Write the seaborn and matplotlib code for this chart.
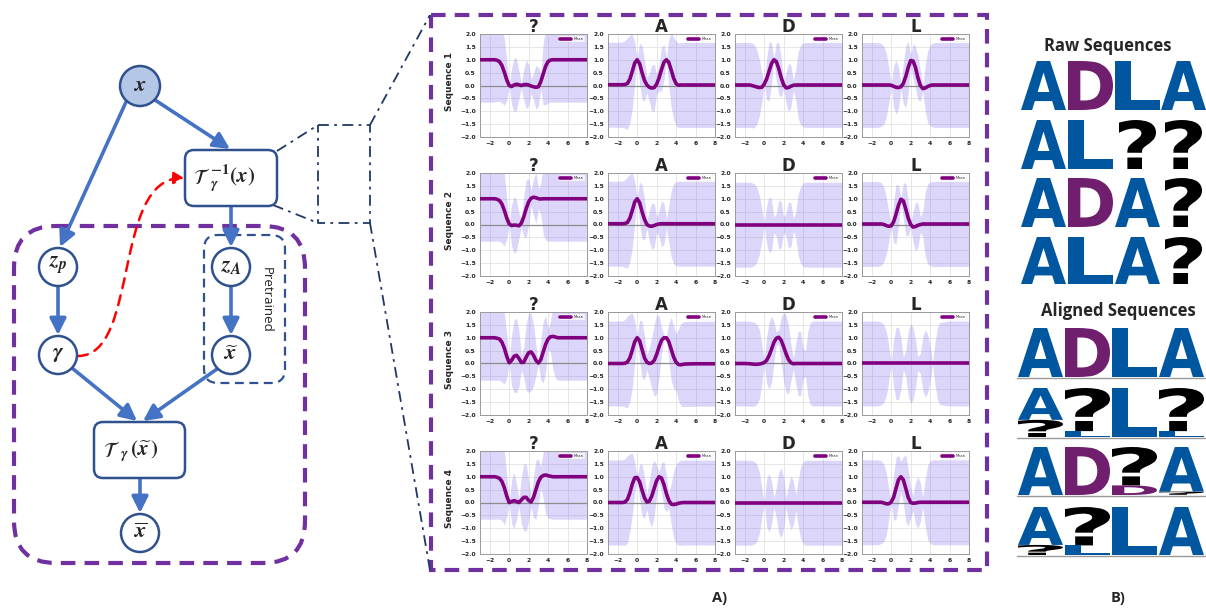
import numpy as np
import pandas as pd
import matplotlib
matplotlib.use("Agg")
import matplotlib.pyplot as plt
import seaborn as sns
from matplotlib.patches import Circle, FancyBboxPatch, FancyArrowPatch, Rectangle, PathPatch
from matplotlib.path import Path
from matplotlib.textpath import TextPath
from matplotlib.font_manager import FontProperties
from matplotlib.mathtext import MathTextParser
import matplotlib.transforms as mtransforms

# ---------------- data ----------------
x_grid = [-3, -2, -1.5, -1.25, -1, -0.75, -0.5, -0.25, 0, 0.25, 0.5, 0.75, 1, 1.25, 1.5,
          1.75, 2, 2.25, 2.5, 2.75, 3, 3.25, 3.5, 3.75, 4, 4.25, 4.5, 4.75, 5, 6, 8]
letters = ["?", "A", "D", "L"]
sequence_labels = ["Sequence 1", "Sequence 2", "Sequence 3", "Sequence 4"]

mean_s1_q = [1, 1, 1, 0.98, 0.93, 0.78, 0.52, 0.22, 0.0, -0.04, 0.02, 0.05, 0.03, 0.0, 0.03, 0.04, 0.02, -0.02, -0.05, -0.07, -0.05, 0.15, 0.45, 0.75, 0.93, 0.99, 1, 1, 1, 1, 1]
std_s1_q = [1.65, 1.65, 1.64, 1.6, 1.55, 1.45, 1.3, 0.8, 0.05, 0.7, 1.05, 1.0, 0.55, 0.1, 0.6, 0.95, 0.8, 0.3, 0.5, 0.85, 0.75, 0.3, 1.2, 1.5, 1.6, 1.63, 1.65, 1.65, 1.65, 1.65, 1.65]
mean_s1_a = [0.03, 0.03, 0.03, 0.04, 0.08, 0.25, 0.55, 0.88, 1.0, 0.85, 0.5, 0.2, 0.02, -0.07, -0.1, -0.08, 0.05, 0.3, 0.62, 0.9, 1.0, 0.9, 0.6, 0.28, 0.07, 0.01, 0.02, 0.02, 0.02, 0.02, 0.02]
std_s1_a = [1.65, 1.65, 1.66, 1.7, 1.78, 1.7, 1.45, 0.8, 0.05, 0.8, 1.05, 0.8, 0.3, 0.55, 0.9, 0.9, 0.4, 0.5, 0.85, 0.7, 0.1, 0.9, 1.45, 1.6, 1.65, 1.65, 1.65, 1.65, 1.65, 1.65, 1.65]
mean_s1_d = [0.02, 0.02, 0.02, 0.0, -0.03, -0.06, -0.08, -0.07, 0.05, 0.25, 0.55, 0.85, 1.0, 0.93, 0.65, 0.3, 0.03, -0.09, -0.08, -0.03, 0.01, 0.02, 0.02, 0.02, 0.02, 0.02, 0.02, 0.02, 0.02, 0.02, 0.02]
std_s1_d = [1.65, 1.65, 1.65, 1.65, 1.6, 1.45, 1.1, 0.6, 0.05, 0.8, 1.15, 0.8, 0.05, 0.75, 1.0, 0.75, 0.15, 0.6, 0.95, 0.8, 0.2, 0.6, 1.3, 1.55, 1.63, 1.65, 1.65, 1.65, 1.65, 1.65, 1.65]
mean_s1_l = [0.02, 0.02, 0.02, 0.02, 0.02, 0.02, 0.02, 0.02, 0.01, -0.03, -0.07, -0.08, -0.05, 0.08, 0.35, 0.7, 0.97, 0.95, 0.7, 0.3, 0.0, -0.12, -0.1, -0.04, 0.0, 0.02, 0.02, 0.02, 0.02, 0.02, 0.02]
std_s1_l = [1.65, 1.65, 1.65, 1.64, 1.6, 1.5, 1.25, 0.7, 0.05, 0.8, 1.05, 0.8, 0.1, 0.8, 1.2, 1.0, 0.2, 0.7, 0.8, 0.85, 0.6, 0.1, 0.9, 1.4, 1.58, 1.63, 1.65, 1.65, 1.65, 1.65, 1.65]

mean_s2_q = [1, 1, 1, 0.98, 0.93, 0.8, 0.55, 0.25, 0.02, -0.04, -0.02, -0.03, -0.05, 0.05, 0.3, 0.62, 0.88, 1.02, 1.06, 1.04, 1.0, 0.99, 1, 1, 1, 1, 1, 1, 1, 1, 1]
std_s2_q = [1.65, 1.65, 1.65, 1.62, 1.58, 1.52, 1.4, 0.8, 0.05, 0.8, 1.1, 1.0, 0.5, 0.15, 0.8, 1.1, 0.9, 0.3, 0.7, 1.0, 0.4, 0.6, 1.4, 1.6, 1.65, 1.65, 1.65, 1.65, 1.65, 1.65, 1.65]
mean_s2_a = [0.03, 0.03, 0.03, 0.04, 0.08, 0.25, 0.55, 0.88, 1.0, 0.85, 0.5, 0.2, 0.0, -0.06, -0.07, -0.04, 0.0, 0.02, 0.03, 0.03, 0.03, 0.03, 0.03, 0.03, 0.03, 0.03, 0.03, 0.03, 0.03, 0.03, 0.03]
std_s2_a = [1.65, 1.65, 1.66, 1.7, 1.78, 1.7, 1.45, 0.8, 0.05, 0.8, 1.05, 0.8, 0.15, 0.6, 0.9, 0.85, 0.3, 0.5, 0.9, 0.8, 0.2, 0.7, 1.3, 1.55, 1.63, 1.65, 1.65, 1.65, 1.65, 1.65, 1.65]
mean_s2_d = [-0.01, -0.01, -0.01, -0.01, -0.01, -0.01, -0.01, -0.01, -0.01, -0.01, -0.01, -0.01, -0.01, -0.01, -0.01, -0.01, -0.01, -0.01, -0.01, -0.01, -0.01, -0.01, -0.01, -0.01, -0.01, -0.01, -0.01, -0.01, -0.01, -0.01, -0.01]
std_s2_d = [1.65, 1.65, 1.65, 1.63, 1.58, 1.45, 1.15, 0.65, 0.05, 0.75, 1.08, 1.0, 0.3, 0.45, 0.95, 0.9, 0.3, 0.45, 0.9, 0.85, 0.25, 0.5, 1.2, 1.5, 1.62, 1.65, 1.65, 1.65, 1.65, 1.65, 1.65]
mean_s2_l = [0.02, 0.02, 0.02, 0.02, 0.02, 0.0, -0.04, -0.07, -0.05, 0.1, 0.4, 0.75, 0.98, 0.92, 0.6, 0.25, 0.0, -0.1, -0.08, -0.03, 0.0, 0.02, 0.02, 0.02, 0.02, 0.02, 0.02, 0.02, 0.02, 0.02, 0.02]
std_s2_l = [1.65, 1.65, 1.65, 1.64, 1.6, 1.45, 1.1, 0.6, 0.05, 0.8, 1.15, 0.8, 0.05, 0.7, 1.0, 0.7, 0.1, 0.6, 0.95, 0.85, 0.3, 0.5, 1.25, 1.55, 1.63, 1.65, 1.65, 1.65, 1.65, 1.65, 1.65]

mean_s3_q = [1, 1, 1, 0.98, 0.95, 0.83, 0.6, 0.28, 0.03, 0.12, 0.28, 0.32, 0.2, 0.04, 0.05, 0.25, 0.42, 0.45, 0.32, 0.12, 0.02, 0.15, 0.45, 0.75, 0.95, 1.04, 1.05, 1.03, 1.0, 1.0, 1.0]
std_s3_q = [1.65, 1.65, 1.65, 1.63, 1.6, 1.55, 1.4, 0.85, 0.05, 1.0, 1.4, 1.45, 1.1, 0.3, 0.6, 1.3, 1.55, 1.5, 1.2, 0.6, 0.05, 0.8, 1.2, 1.1, 0.4, 0.6, 1.3, 1.6, 1.65, 1.65, 1.65]
mean_s3_a = [0.0, 0.0, 0.0, 0.01, 0.06, 0.22, 0.52, 0.85, 1.0, 0.88, 0.55, 0.22, 0.05, 0.0, 0.02, 0.12, 0.35, 0.65, 0.9, 1.0, 1.0, 0.85, 0.55, 0.25, 0.05, -0.04, -0.05, -0.03, -0.02, -0.01, -0.01]
std_s3_a = [1.65, 1.65, 1.66, 1.7, 1.78, 1.7, 1.45, 0.8, 0.05, 0.8, 1.1, 0.85, 0.3, 0.6, 1.0, 1.4, 1.55, 1.2, 0.5, 0.1, 0.05, 0.7, 1.25, 1.2, 1.1, 1.4, 1.6, 1.65, 1.65, 1.65, 1.65]
mean_s3_d = [0.0, 0.0, -0.01, -0.02, -0.03, -0.03, -0.02, 0.0, 0.04, 0.12, 0.3, 0.55, 0.82, 0.98, 1.02, 0.9, 0.65, 0.38, 0.15, 0.03, -0.01, 0.0, 0.0, 0.0, 0.0, 0.0, 0.0, 0.0, 0.0, 0.0, 0.0]
std_s3_d = [1.65, 1.65, 1.65, 1.65, 1.62, 1.55, 1.35, 0.8, 0.05, 0.9, 1.3, 1.3, 0.8, 0.25, 0.3, 0.9, 1.35, 1.5, 1.35, 0.7, 0.2, 0.8, 1.25, 1.25, 0.6, 0.5, 1.3, 1.6, 1.65, 1.65, 1.65]
mean_s3_l = [0.0, 0.0, 0.0, 0.0, 0.0, 0.0, 0.0, 0.0, 0.0, 0.0, 0.0, 0.0, 0.0, 0.0, 0.0, 0.0, 0.0, 0.0, 0.0, 0.0, 0.0, 0.0, 0.0, 0.0, 0.0, 0.0, 0.0, 0.0, 0.0, 0.0, 0.0]
std_s3_l = [1.65, 1.65, 1.65, 1.64, 1.6, 1.5, 1.25, 0.7, 0.05, 0.9, 1.4, 1.4, 1.0, 0.25, 0.5, 1.25, 1.55, 1.4, 0.9, 0.25, 0.4, 1.05, 1.3, 1.15, 0.7, 0.05, 0.8, 1.4, 1.6, 1.65, 1.65]

mean_s4_q = [1, 1, 1, 0.98, 0.94, 0.82, 0.58, 0.25, 0.0, 0.04, 0.07, 0.04, 0.0, 0.1, 0.2, 0.2, 0.08, 0.02, 0.2, 0.5, 0.8, 0.98, 1.05, 1.07, 1.04, 1.02, 1.0, 1.0, 1.0, 1.0, 1.0]
std_s4_q = [1.65, 1.65, 1.65, 1.63, 1.58, 1.52, 1.45, 0.8, 0.05, 0.85, 1.1, 0.7, 0.15, 0.9, 1.3, 1.3, 0.8, 0.2, 0.8, 1.15, 0.9, 0.4, 0.9, 1.5, 1.65, 1.65, 1.65, 1.65, 1.65, 1.65, 1.65]
mean_s4_a = [0.0, 0.0, 0.0, 0.02, 0.12, 0.38, 0.72, 0.96, 0.97, 0.8, 0.48, 0.18, 0.02, 0.05, 0.25, 0.55, 0.85, 1.0, 0.95, 0.7, 0.35, 0.08, -0.06, -0.08, -0.06, -0.03, -0.01, 0.0, 0.0, 0.0, 0.0]
std_s4_a = [1.65, 1.65, 1.66, 1.68, 1.7, 1.5, 1.2, 0.6, 0.05, 0.7, 1.0, 0.8, 0.3, 0.8, 1.2, 1.1, 0.6, 0.2, 0.6, 0.9, 0.7, 0.3, 0.8, 1.3, 1.55, 1.63, 1.65, 1.65, 1.65, 1.65, 1.65]
mean_s4_d = [-0.01, -0.01, -0.01, -0.01, -0.01, -0.01, -0.01, -0.01, -0.01, -0.01, -0.01, -0.01, -0.01, -0.01, -0.01, -0.01, -0.01, -0.01, -0.01, -0.01, -0.01, -0.01, -0.01, -0.01, -0.01, -0.01, -0.01, -0.01, -0.01, -0.01, -0.01]
std_s4_d = [1.65, 1.65, 1.65, 1.64, 1.6, 1.5, 1.2, 0.6, 0.05, 0.9, 1.15, 0.85, 0.2, 0.6, 1.2, 1.35, 1.0, 0.2, 0.7, 1.05, 0.85, 0.3, 0.9, 1.4, 1.6, 1.65, 1.65, 1.65, 1.65, 1.65, 1.65]
mean_s4_l = [0.01, 0.01, 0.01, 0.01, 0.01, -0.02, -0.05, -0.05, 0.02, 0.2, 0.55, 0.88, 1.0, 0.88, 0.55, 0.2, 0.0, -0.03, -0.02, 0.0, 0.01, 0.01, 0.01, 0.01, 0.01, 0.01, 0.01, 0.01, 0.01, 0.01, 0.01]
std_s4_l = [1.65, 1.65, 1.65, 1.64, 1.6, 1.5, 1.2, 0.6, 0.05, 0.9, 1.2, 0.95, 0.6, 0.9, 1.3, 1.1, 0.6, 0.3, 0.8, 1.0, 0.75, 0.2, 0.9, 1.45, 1.6, 1.65, 1.65, 1.65, 1.65, 1.65, 1.65]

x_ticks = [-2, 0, 2, 4, 6, 8]
y_ticks = [-2.0, -1.5, -1.0, -0.5, 0.0, 0.5, 1.0, 1.5, 2.0]

raw_sequences = ["ADLA", "AL??", "ADA?", "ALA?"]
# aligned logo columns: (letter, share of column height), listed top to bottom
aligned_row1 = [[("A", 1.0)], [("D", 1.0)], [("L", 1.0)], [("A", 1.0)]]
aligned_row2 = [[("A", 0.65), ("?", 0.35)], [("?", 0.88), ("L", 0.12)], [("L", 1.0)], [("?", 0.88), ("L", 0.12)]]
aligned_row3 = [[("A", 1.0)], [("D", 1.0)], [("?", 0.8), ("D", 0.2)], [("A", 0.93), ("?", 0.07)]]
aligned_row4 = [[("A", 0.79), ("?", 0.21)], [("?", 0.8), ("L", 0.2)], [("L", 1.0)], [("A", 1.0)]]

panel_data = {
    (0, "?"): (mean_s1_q, std_s1_q), (0, "A"): (mean_s1_a, std_s1_a), (0, "D"): (mean_s1_d, std_s1_d), (0, "L"): (mean_s1_l, std_s1_l),
    (1, "?"): (mean_s2_q, std_s2_q), (1, "A"): (mean_s2_a, std_s2_a), (1, "D"): (mean_s2_d, std_s2_d), (1, "L"): (mean_s2_l, std_s2_l),
    (2, "?"): (mean_s3_q, std_s3_q), (2, "A"): (mean_s3_a, std_s3_a), (2, "D"): (mean_s3_d, std_s3_d), (2, "L"): (mean_s3_l, std_s3_l),
    (3, "?"): (mean_s4_q, std_s4_q), (3, "A"): (mean_s4_a, std_s4_a), (3, "D"): (mean_s4_d, std_s4_d), (3, "L"): (mean_s4_l, std_s4_l),
}
for k, (m, s) in panel_data.items():
    assert len(m) == len(x_grid) and len(s) == len(x_grid), k

# ---------------- style ----------------
sns.set_style("whitegrid")
plt.rcParams["font.family"] = ["DejaVu Sans"]
plt.rcParams["mathtext.fontset"] = "custom"
plt.rcParams["mathtext.it"] = "STIXGeneral:italic:bold"
plt.rcParams["mathtext.rm"] = "STIXGeneral:bold"
plt.rcParams["mathtext.bf"] = "STIXGeneral:bold"

W, H = 1206, 608
fig = plt.figure(figsize=(W / 100, H / 100), dpi=100)
fig.patch.set_facecolor("white")

ov = fig.add_axes([0, 0, 1, 1])
ov.set_xlim(0, W)
ov.set_ylim(H, 0)
ov.axis("off")


def px_rect(l, t, w, h):
    return [l / W, 1 - (t + h) / H, w / W, h / H]


# ---------------- GP panels ----------------
col_left = [480, 608, 735, 862]
row_top = [34, 173, 312, 451]
PW, PH = 107, 103
LINE_C = "#800080"
BAND_C = "#7b68ee"

for r in range(4):
    for c, let in enumerate(letters):
        ax = fig.add_axes(px_rect(col_left[c], row_top[r], PW, PH))
        m, s = panel_data[(r, let)]
        df = pd.DataFrame({"x": x_grid, "mean": m, "std": s})
        ax.fill_between(df["x"], df["mean"] - df["std"], df["mean"] + df["std"],
                        color=BAND_C, alpha=0.26, lw=0, zorder=1)
        ax.axhline(0, color="#8c8c8c", lw=0.9, zorder=2)
        sns.lineplot(data=df, x="x", y="mean", ax=ax, color=LINE_C, lw=2.6,
                     label="Mean", zorder=3)
        ax.set_xlim(-3, 8)
        ax.set_ylim(-2, 2)
        ax.set_xticks(x_ticks)
        ax.set_yticks(y_ticks)
        ax.set_xlabel("")
        ax.set_ylabel("")
        ax.grid(True, color="#e2e2e2", lw=0.6)
        ax.tick_params(labelsize=4.3, length=1.5, width=0.5, pad=1.5, colors="#222222")
        for lab in ax.get_xticklabels() + ax.get_yticklabels():
            lab.set_fontweight("bold")
        for sp in ax.spines.values():
            sp.set_color("#9a9a9a")
            sp.set_linewidth(0.7)
        leg = ax.legend(loc="upper right", fontsize=2.6, handlelength=3.0,
                        borderpad=0.35, frameon=True, fancybox=False)
        leg.get_frame().set_linewidth(0.3)
        leg.get_frame().set_edgecolor("#dddddd")
        ax.set_title(let, fontsize=12, fontweight="bold", pad=1.5)
    fig.text(449 / W, 1 - (row_top[r] + PH / 2 - 4) / H, sequence_labels[r], rotation=90,
             ha="center", va="center", fontsize=6.5, fontweight="bold")

# outer dashed purple frame around panels
PURPLE = "#7030a0"
ov.add_patch(Rectangle((431, 15), 556, 555, fill=False, ec=PURPLE, lw=3.0,
                       ls=(0, (3.5, 2.2))))

ov.text(720, 598, "A)", ha="center", va="center", fontsize=10.5, fontweight="bold",
        family="Open Sans")
ov.text(1118, 598, "B)", ha="center", va="center", fontsize=10.5, fontweight="bold",
        family="Open Sans")

# ---------------- left diagram ----------------
parser = MathTextParser("path")


def ok(s):
    try:
        parser.parse(s, prop=FontProperties())
        return True
    except Exception:
        return False


SUBSUP = r"${}_{\gamma}^{-1}(x)$" if ok(r"${}_{\gamma}^{-1}(x)$") else r"$_{\gamma}^{-1}(x)$"
SUB2 = r"${}_{\gamma}\,(\widetilde{x}\,)$" if ok(r"${}_{\gamma}\,(\widetilde{x}\,)$") else r"$_{\gamma}\,(\widetilde{x}\,)$"

BLUE = "#4472c4"
NAVY = "#2f528f"

nodes = {
    "x": (140, 86, 20, "#b4c7e7", r"$x$"),
    "zp": (58, 267, 19, "white", r"$z_{p}$"),
    "zA": (231, 267, 19, "white", r"$z_{A}$"),
    "g": (58, 355, 19, "white", r"$\gamma$"),
    "xt": (231, 355, 19, "white", r"$\widetilde{x}$"),
    "xb": (140, 533, 19, "white", r"$\overline{x}$"),
}

# dashed containers
ov.add_patch(FancyBboxPatch((14, 226), 291, 337, boxstyle="round,pad=0,rounding_size=42",
                            fill=False, ec=PURPLE, lw=3.0, ls=(0, (3.5, 2.2)), zorder=2))
ov.add_patch(FancyBboxPatch((204, 235), 81, 148, boxstyle="round,pad=0,rounding_size=14",
                            fill=False, ec=NAVY, lw=1.6, ls=(0, (4, 2.5)), zorder=2))
ov.text(266, 300, "Pretrained", rotation=-90, ha="center", va="center", fontsize=9.5,
        family="Open Sans", color="#222222")

# boxes
ov.add_patch(FancyBboxPatch((185, 150), 92, 56, boxstyle="round,pad=0,rounding_size=9",
                            fc="white", ec=NAVY, lw=1.8, zorder=4))
ov.text(210, 178, r"$\mathcal{T}$", ha="right", va="center", fontsize=15,
        math_fontfamily="stix", zorder=5)
ov.text(210, 178, SUBSUP, ha="left", va="center", fontsize=15, zorder=5)
ov.add_patch(FancyBboxPatch((94, 422), 91, 56, boxstyle="round,pad=0,rounding_size=9",
                            fc="white", ec=NAVY, lw=1.8, zorder=4))
ov.text(120, 451, r"$\mathcal{T}$", ha="right", va="center", fontsize=15,
        math_fontfamily="stix", zorder=5)
ov.text(120, 451, SUB2, ha="left", va="center", fontsize=15, zorder=5)

for key, (cx, cy, rr, fc, lab) in nodes.items():
    ov.add_patch(Circle((cx, cy), rr, fc=fc, ec=NAVY, lw=1.8, zorder=4))
    ov.text(cx, cy - 1, lab, ha="center", va="center", fontsize=16, zorder=5)

arrows = [
    ((126, 102), (60, 247)),
    ((155, 100), (230, 149)),
    ((231, 206), (231, 247)),
    ((58, 286), (58, 335)),
    ((231, 286), (231, 335)),
    ((72, 368), (137, 421)),
    ((217, 369), (143, 421)),
    ((140, 478), (140, 513)),
]
for p0, p1 in arrows:
    ov.add_patch(FancyArrowPatch(p0, p1, arrowstyle="-|>,head_length=0.7,head_width=0.35",
                                 mutation_scale=14, color=BLUE, lw=2.6, shrinkA=0,
                                 shrinkB=0, zorder=3))

# red dashed curved arrow
red_path = Path([(78, 356), (140, 356), (112, 178), (184, 178)],
                [Path.MOVETO, Path.CURVE4, Path.CURVE4, Path.CURVE4])
ov.add_patch(FancyArrowPatch(path=red_path, arrowstyle="-|>,head_length=0.5,head_width=0.3",
                             mutation_scale=12, color="red", lw=1.8, ls=(0, (4, 3)),
                             zorder=3))

# dash-dot zoom connectors
DD = "#1f3864"
dd_style = dict(color=DD, lw=1.3, ls=(0, (6, 3, 1.5, 3)), zorder=2)
ov.plot([277, 318], [151, 125], **dd_style)
ov.plot([273, 318], [205, 223], **dd_style)
ov.plot([318, 370, 370, 318, 318], [125, 125, 223, 223, 125], **dd_style)
ov.plot([370, 430], [125, 15], **dd_style)
ov.plot([370, 430], [223, 570], **dd_style)

# ---------------- sequence logos ----------------
LOGO_FP = FontProperties(family="DejaVu Sans", weight="bold")
LOGO_COL = {"A": "#00569f", "L": "#00569f", "D": "#701f6e", "?": "#000000"}


def glyph(ch, x0, y_top, w, h):
    tp = TextPath((0, 0), ch, size=100, prop=LOGO_FP)
    bb = tp.get_extents()
    tr = (mtransforms.Affine2D().translate(-bb.x0, -bb.y0)
          .scale(w / bb.width, -h / bb.height).translate(x0, y_top + h))
    ov.add_patch(PathPatch(tr.transform_path(tp), fc=LOGO_COL[ch], ec="none", lw=0,
                           zorder=4))


ov.text(1108, 46, "Raw Sequences", ha="center", va="center", fontsize=12,
        fontweight="bold", family="Open Sans")
raw_cols = [1021, 1068, 1115, 1161]
raw_tops = [61, 120, 178, 237]
raw_h = [49, 49, 49, 47]
for r, seq in enumerate(raw_sequences):
    for c, ch in enumerate(seq):
        if ch == "?":
            glyph(ch, raw_cols[c] + 4, raw_tops[r], 37, raw_h[r])
        else:
            glyph(ch, raw_cols[c], raw_tops[r], 45, raw_h[r])

ov.text(1118, 311, "Aligned Sequences", ha="center", va="center", fontsize=12,
        fontweight="bold", family="Open Sans")
al_cols = [1018, 1065, 1112, 1159]
al_tops = [328, 388, 447, 507]
al_bottoms = [377, 437, 495, 555]
for r, row in enumerate([aligned_row1, aligned_row2, aligned_row3, aligned_row4]):
    total = al_bottoms[r] - al_tops[r]
    for c, stack in enumerate(row):
        y = al_tops[r]
        for ch, share in stack:
            hh = total * share
            glyph(ch, al_cols[c], y, 45, hh)
            y += hh
    ov.plot([1017, 1205], [al_bottoms[r] + 0.5, al_bottoms[r] + 0.5], color="#999999",
            lw=1.0, zorder=3)

fig.savefig("out.png", dpi=100, facecolor="white")
